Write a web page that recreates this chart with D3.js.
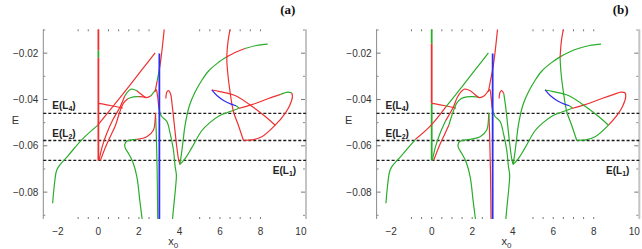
<!DOCTYPE html>
<html><head><meta charset="utf-8">
<script src="https://cdnjs.cloudflare.com/ajax/libs/d3/7.8.5/d3.min.js"></script>
<style>body{margin:0;background:#fff}svg{display:block}</style>
</head><body><svg id="chart" width="642" height="249"></svg>
<script>
// energy levels of the Lagrange points
const levelNames = ["4", "2", "1"];
const levelValues = [-0.046, -0.0577, -0.0663];

const yTicks = [-0.08, -0.06, -0.04, -0.02];
const yMinor = [-0.09, -0.07, -0.05, -0.03, -0.01];
const xTicks = [-2, 0, 2, 4, 6, 8, 10];
const xDots = [-1, -0.5, 0, 0.5, 1, 1.5, 2, 2.5, 5, 5.5, 6, 6.5, 7, 7.5, 8];

// families of orbits: [x0, E]
const famV0 = [[0,-0.0097],[0,-0.0159],[0,-0.0188],[0,-0.022],[0,-0.0416],[0,-0.0663]];
const famH0 = [[0,-0.0417],[0.6,-0.0426],[1.2,-0.0437]];
const famDiag = [[-2.26,-0.0848],[-2.17,-0.0765],[-2.08,-0.0712],[-1.98,-0.0692],[-1.5,-0.0643],[-0.8,-0.0572],
  [-0.05,-0.0513],[0.7,-0.0432],[1.5,-0.0344],[2.2,-0.0266],[2.8,-0.0199]];
const famH1 = [[0.03,-0.0663],[0.2,-0.060],[0.41,-0.0547],[0.7,-0.049],[1.07,-0.0432],[1.3,-0.0385],[1.6,-0.0356],
  [1.9,-0.0362],[2.1,-0.0376],[2.35,-0.0392],[2.6,-0.0384],[2.8,-0.0362],[2.87,-0.0357],[2.93,-0.039],[2.98,-0.0435],
  [3.1,-0.047],[3.38,-0.0495],[3.55,-0.055],[3.7,-0.0615],[3.79,-0.069],[3.85,-0.0726],[3.8,-0.079],[3.72,-0.086],[3.66,-0.0916]];
const famH2 = [[0.1,-0.0663],[0.38,-0.060],[0.66,-0.0547],[0.85,-0.051],[1.05,-0.0455],[1.23,-0.0417],[1.45,-0.0397],
  [1.73,-0.0389],[2.0,-0.0388],[2.22,-0.0389],[2.35,-0.0392]];
const famSteep = [[2.8,-0.0367],[2.9,-0.032],[3.0,-0.0275],[3.08,-0.023],[3.15,-0.018],[3.25,-0.0097]];
const famCusp = [[2.82,-0.0458],[2.86,-0.055],[2.9,-0.07],[2.93,-0.0916]];
const famHook = [[2.16,-0.0916],[2.05,-0.084],[1.9,-0.0734],[1.7,-0.067],[1.5,-0.0635],[1.33,-0.061],[1.3,-0.0595],
  [1.4,-0.058],[1.9,-0.0572],[2.39,-0.0561],[2.72,-0.0532],[2.8,-0.049],[2.82,-0.0458]];
const famArch = [[3.33,-0.0396],[3.38,-0.0368],[3.46,-0.0362],[3.56,-0.0375],[3.65,-0.043],[3.75,-0.051],
  [3.85,-0.059],[3.95,-0.0655],[4.02,-0.068]];
const famArc = [[4.02,-0.068],[4.1,-0.0635],[4.18,-0.058],[4.28,-0.0511],[4.5,-0.0425],[4.78,-0.0367],[5.1,-0.0318],
  [5.43,-0.0278],[5.9,-0.0242],[6.34,-0.0216],[6.8,-0.0195],[7.24,-0.018],[7.8,-0.0167],[8.36,-0.0161]];
const famLobe = [[4.02,-0.068],[4.28,-0.0655],[4.6,-0.061],[5.1,-0.0535],[5.5,-0.050],[5.93,-0.0472],[6.4,-0.0455],
  [6.91,-0.0439],[7.58,-0.0422],[8.4,-0.0396],[9.0,-0.0378],[9.35,-0.0368],[9.55,-0.0372],[9.58,-0.0388],
  [9.45,-0.0425],[9.22,-0.046],[8.73,-0.0511],[8.07,-0.0561],[7.6,-0.0574],[7.16,-0.0576]];
const famNearV = [[7.16,-0.0576],[6.91,-0.0511],[6.67,-0.0453],[6.5,-0.0367],[6.38,-0.028],[6.34,-0.022],
  [6.4,-0.015],[6.5,-0.0097]];
const famBlue = [[5.6,-0.0359],[5.85,-0.0383],[6.2,-0.0405],[6.55,-0.042],[6.8,-0.0427],[6.95,-0.0437]];
const famSlant = [[5.6,-0.0359],[6.0,-0.0366],[6.75,-0.0383],[7.73,-0.0439],[8.3,-0.0478],[8.73,-0.0511]];
const famBlueV = [[3.01,-0.0202],[3.01,-0.0916]];

const families = [famV0, famH0, famDiag, famH2, famH1, famSteep, famCusp, famHook, famArch,
  famArc, famLobe, famNearV, famSlant, famBlue, famBlueV];

// stability along each family: [from index, to index, kind]
const stabA = [
  [[0,2,"r"],[2,3,"g"],[3,5,"r"]],
  [[0,2,"r"]],
  [[0,6,"g"],[6,10,"r"]],
  [[0,6,"r"],[6,8,"g"],[8,10,"r"]],
  [[0,5,"r"],[5,7,"g"],[7,10,"r"],[10,12,"g"],[12,14,"r"],[14,23,"g"]],
  [[0,1,"r"],[1,2,"g"],[2,5,"r"]],
  [[0,3,"g"]],
  [[0,8,"g"],[8,12,"r"]],
  [[0,8,"r"]],
  [[0,9,"g"],[9,11,"r"],[11,13,"g"]],
  [[0,7,"g"],[7,10,"r"],[10,12,"g"],[12,19,"r"]],
  [[0,7,"r"]],
  [[0,5,"r"]],
  [[0,4,"b"],[4,5,"g"]],
  [[0,1,"b"]]
];
const stabB = [
  [[0,1,"g"],[1,4,"r"],[4,5,"g"]],
  [[0,2,"r"]],
  [[0,5,"g"],[5,7,"r"],[7,10,"g"]],
  [[0,3,"r"],[3,10,"g"]],
  [[0,3,"g"],[3,14,"r"],[14,23,"g"]],
  [[0,5,"r"]],
  [[0,3,"r"]],
  [[0,12,"g"]],
  [[0,3,"r"],[3,8,"g"]],
  [[0,13,"g"]],
  [[0,7,"g"],[7,16,"r"],[16,19,"g"]],
  [[0,5,"g"],[5,7,"r"]],
  [[0,5,"g"]],
  [[0,4,"b"],[4,5,"g"]],
  [[0,1,"b"]]
];

const colors = {r: "#f03030", g: "#2aad2a", b: "#2e2ef0"};
const svg = d3.select("#chart");
const W = 262.7, plotTop = 29.3, plotBottom = 219;

const x = d3.scaleLinear().domain([-2.72, 10.25]).range([0, W]);
const y = d3.scaleLinear().domain([-0.0916, -0.0097]).range([plotBottom, plotTop]);

const line = d3.line().x(d => x(d[0])).y(d => y(d[1])).curve(d3.curveCatmullRom.alpha(0.5));

const panels = [{name: "(a)", left: 43.3, stab: stabA}, {name: "(b)", left: 376.6, stab: stabB}];
const sans = "Liberation Sans, Arial, sans-serif";

panels.forEach((p, pi) => {
  const g = svg.append("g").attr("transform", "translate(" + p.left + ",0)");

  g.append("clipPath").attr("id", "clip" + pi)
    .append("rect").attr("x", 0).attr("y", plotTop).attr("width", W).attr("height", plotBottom - plotTop);

  // frame
  g.append("line").attr("x1", 0).attr("x2", 0).attr("y1", plotTop).attr("y2", plotBottom)
    .attr("stroke", "#8a8a8a").attr("stroke-width", 1);
  g.append("line").attr("x1", W).attr("x2", W).attr("y1", plotTop).attr("y2", plotBottom)
    .attr("stroke", "#c4c4c4").attr("stroke-width", 2);

  // y ticks
  yTicks.forEach(t => {
    g.append("line").attr("x1", 0).attr("x2", 4).attr("y1", y(t)).attr("y2", y(t)).attr("stroke", "#777");
    g.append("line").attr("x1", W - 5).attr("x2", W - 1).attr("y1", y(t)).attr("y2", y(t)).attr("stroke", "#777");
    g.append("text").attr("x", -5).attr("y", y(t) + 3.5).attr("text-anchor", "end")
      .attr("font-family", sans).attr("font-size", 10).attr("fill", "#333")
      .text("\u2212" + Math.abs(t).toFixed(2));
  });
  yMinor.concat(levelValues).forEach(t => {
    g.append("line").attr("x1", 0).attr("x2", 2).attr("y1", y(t)).attr("y2", y(t)).attr("stroke", "#888");
    g.append("line").attr("x1", W - 3).attr("x2", W - 1).attr("y1", y(t)).attr("y2", y(t)).attr("stroke", "#888");
  });

  // x ticks (dotted marks top and bottom)
  xDots.forEach(t => {
    g.append("line").attr("x1", x(t)).attr("x2", x(t)).attr("y1", plotTop).attr("y2", plotTop + 2).attr("stroke", "#777");
    g.append("line").attr("x1", x(t)).attr("x2", x(t)).attr("y1", plotBottom - 2).attr("y2", plotBottom).attr("stroke", "#777");
  });
  xTicks.forEach(t => {
    g.append("text").attr("x", x(t)).attr("y", 235).attr("text-anchor", "middle")
      .attr("font-family", sans).attr("font-size", 10).attr("fill", "#333")
      .text(t < 0 ? "\u2212" + Math.abs(t) : t);
  });

  // dashed energy levels
  levelValues.forEach(v => {
    g.append("line").attr("x1", 0).attr("x2", W).attr("y1", y(v)).attr("y2", y(v))
      .attr("stroke", "#1a1a1a").attr("stroke-width", 1.3).attr("stroke-dasharray", "3,2");
  });

  // families
  const fg = g.append("g").attr("clip-path", "url(#clip" + pi + ")");
  families.forEach((pts, fi) => {
    const wide = fi === 0 || fi === families.length - 1;
    p.stab[fi].forEach(s => {
      fg.append("path").attr("d", line(pts.slice(s[0], s[1] + 1)))
        .attr("fill", "none").attr("stroke", colors[s[2]])
        .attr("stroke-width", wide ? 1.8 : 1.2);
    });
  });

  // level labels
  const labPos = [[9, 109], [9, 137], [229.5, 174]];
  levelNames.forEach((n, i) => {
    const t = g.append("text").attr("x", labPos[i][0]).attr("y", labPos[i][1])
      .attr("font-family", sans).attr("font-size", 10)
      .attr("font-weight", "bold").attr("fill", "#222");
    t.append("tspan").text("E(L");
    t.append("tspan").attr("dy", 2).attr("font-size", 7).text(n);
    t.append("tspan").attr("dy", -2).text(")");
  });

  // axis titles
  g.append("text").attr("x", -28).attr("y", 124).attr("text-anchor", "middle")
    .attr("font-family", sans).attr("font-size", 11).attr("fill", "#333").text("E");
  const xl = g.append("text").attr("x", 125).attr("y", 245)
    .attr("font-family", sans).attr("font-size", 11).attr("fill", "#333");
  xl.append("tspan").text("x");
  xl.append("tspan").attr("dy", 2.5).attr("font-size", 8).text("0");

  g.append("text").attr("x", 252).attr("y", 14).attr("text-anchor", "end")
    .attr("font-family", "Liberation Serif, Times New Roman, serif").attr("font-size", 13)
    .attr("font-weight", "bold").attr("fill", "#111").text(p.name);
});
</script>
</body></html>
